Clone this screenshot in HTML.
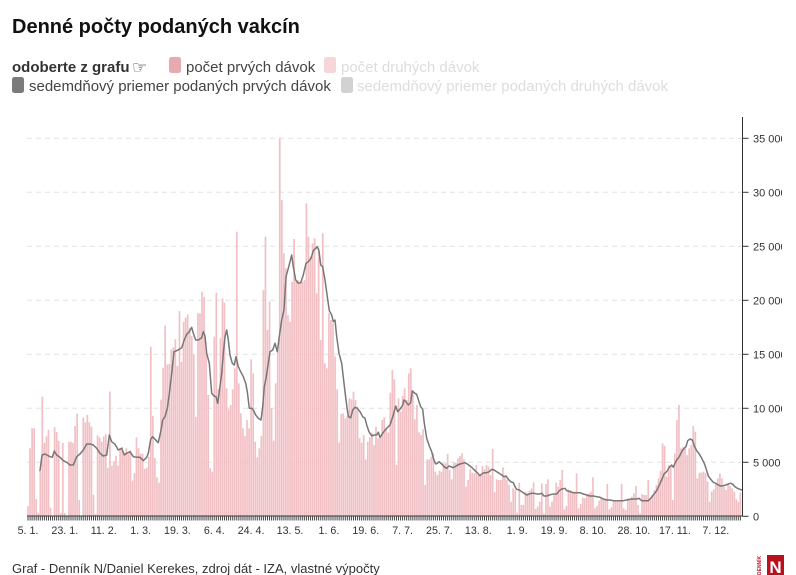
<!DOCTYPE html>
<html><head><meta charset="utf-8">
<style>
html,body{margin:0;padding:0;background:#fff;width:796px;height:575px;overflow:hidden;}
body{position:relative;font-family:"Liberation Sans",sans-serif;}
svg{position:absolute;left:0;top:0;}
</style></head><body>
<svg id="c" width="796" height="575" xmlns="http://www.w3.org/2000/svg" font-family="Liberation Sans, sans-serif">
<defs><clipPath id="cl"><rect x="0" y="0" width="782" height="575"/></clipPath></defs>
<text x="12" y="33" font-size="20" font-weight="bold" fill="#111">Denné počty podaných vakcín</text>
<text x="12" y="72" font-size="15" font-weight="bold" fill="#333">odoberte z grafu</text>
<text x="132" y="73" font-size="17" fill="#333" font-family="DejaVu Sans, sans-serif">☞</text>
<rect x="169" y="57" width="12" height="16" rx="2.5" fill="#e9a9b0"/>
<text x="186" y="72" font-size="15" fill="#444">počet prvých dávok</text>
<rect x="324" y="57" width="12" height="16" rx="2.5" fill="#f6d6d9"/>
<text x="341" y="72" font-size="15" fill="#dddddd">počet druhých dávok</text>
<rect x="12" y="77" width="12" height="16" rx="2.5" fill="#7b7b7b"/>
<text x="29" y="91" font-size="15" fill="#444">sedemdňový priemer podaných prvých dávok</text>
<rect x="341" y="77" width="12" height="16" rx="2.5" fill="#d2d2d2"/>
<text x="357" y="91" font-size="15" fill="#dddddd">sedemdňový priemer podaných druhých dávok</text>
<g id="grid"></g>
<g id="bars"></g>
<g id="line"></g>
<g id="axes"></g>
<g id="ylab" clip-path="url(#cl)"></g>
<g id="xlab"></g>
<text x="12" y="573" font-size="13" fill="#333">Graf - Denník N/Daniel Kerekes, zdroj dát - IZA, vlastné výpočty</text>
<text x="761" y="575" font-size="5" fill="#c0122a" transform="rotate(-90 761 575)" font-weight="bold">DENNÍK</text>
<rect x="767" y="555" width="17" height="22" fill="#b9121f"/>
<text x="775.5" y="573" font-size="17" font-weight="bold" fill="#fff" text-anchor="middle">N</text>
</svg>
<script>
var NS="http://www.w3.org/2000/svg";
function el(tag,attrs,parent){var e=document.createElementNS(NS,tag);for(var k in attrs)e.setAttribute(k,attrs[k]);parent.appendChild(e);return e;}
var X0=28,DX=2.047,Y0=516.3,K=54/5000,N=349;
function vy(v){return Y0-v*K;}
var grid=document.getElementById('grid'),bars=document.getElementById('bars'),line=document.getElementById('line'),axes=document.getElementById('axes'),ylab=document.getElementById('ylab'),xlab=document.getElementById('xlab');
for(var k=1;k<=7;k++){var y=(Y0-k*54).toFixed(1);el('line',{x1:27,x2:742,y1:y,y2:y,stroke:'#e2e2e2','stroke-width':1,'stroke-dasharray':'5,4'},grid);}
var vals=new Array(N);for(var i=0;i<N;i++)vals[i]=null;
var z7=[950,6300,8150,8150,1600,300,4130,11080,6800,7400,8000,800,0,8250,7800,7000,300,6800,300,0,6900,6900,6800,8350,9500,1500,0,9150,8700,9400,8700,8300,2000,200,7500,7300,6900,7400,7600,4500,11550,4700,5100,5600,4700,6300,6400,5900,6300,5800,6100,3300,4000,7300,6300,5800,5800,4400,4500,5500,15700,9300,5400,3600,3100,10800,13750,17650,14050,14100,15450,15650,16400,13900,19000,14300,18000,18400,18700,17450,16700,15000,9200,18800,18800,20800,20300,15700];
for(var i=0;i<z7.length;i++)vals[i]=z7[i];
var z8=[[22,825],[28,1045],[34,1055],[40,1175],[42,650],[47,518],[53,808],[60,655],[66,535],[72,548],[78,805],[84,868],[90,855],[97,808],[103,745],[110,335],[115,790],[121,880],[127,925],[133,948],[140,900],[146,925],[152,718],[158,760],[164,965],[170,1012],[176,985],[182,948],[188,510],[195,350],[200,630],[206,545],[213,865],[219,962],[225,790],[231,690],[238,55],[244,240],[250,400],[256,445],[262,585],[268,605],[274,485],[281,357],[287,485],[293,480],[299,485],[305,485],[311,480],[317,250],[323,350],[329,410],[335,370],[341,355],[348,520],[354,385],[360,660],[366,340],[372,730],[378,745],[384,580],[390,600],[396,618],[402,610],[409,808],[415,968],[421,882],[427,880],[433,895],[439,890],[446,835],[452,838],[458,815],[464,840],[470,860],[476,955],[482,965],[488,968],[494,945],[500,1018],[506,965],[513,938],[519,975],[525,948],[531,920],[537,955]];
var z9=[[3,350],[9,300],[15,292],[21,325],[27,338],[33,218],[39,150],[45,178],[51,435],[57,235],[63,275],[69,228],[75,205],[81,240],[87,160],[93,145],[99,210],[105,298],[111,255],[117,337],[123,345],[129,328],[133,495],[139,418],[145,418],[151,410],[157,400],[163,443],[169,455],[175,465],[181,452],[187,455],[193,430],[199,430],[205,402],[211,450],[217,478],[223,428],[229,428],[235,415],[241,408],[247,400],[253,418],[259,500],[265,480],[271,448],[277,458],[283,460],[289,435],[295,465],[301,465],[307,438],[313,448],[319,435],[325,440],[331,465],[337,387],[343,517],[349,478],[355,480],[361,480],[367,442],[373,470],[379,480],[385,495],[391,545],[397,505],[403,510],[409,578],[415,488],[421,478],[427,555],[433,555],[439,515],[445,520],[451,512],[457,505],[463,487],[469,567],[475,560],[481,545],[487,490],[493,580],[499,492],[505,478],[511,560],[517,545],[523,525],[529,488],[535,500]];
var z10=[[3,480],[9,450],[15,568],[21,558],[27,508],[33,510],[39,515],[45,515],[51,460],[57,565],[63,552],[69,533],[75,535],[81,528],[87,520],[93,515],[99,472],[105,565],[111,558],[117,542],[123,532],[129,535],[135,540],[141,492],[147,568],[153,562],[159,540],[165,545],[171,545],[177,545],[183,492],[189,565],[195,570],[201,535],[207,535],[213,530],[219,520],[225,498],[231,568],[237,555],[243,580],[249,522],[255,525],[261,525],[267,480],[273,540],[279,525],[285,510],[291,495],[297,475],[303,452],[309,370],[315,378],[321,470],[327,435],[333,440],[339,540],[345,400],[351,300],[356,255],[362,385],[368,382],[374,380],[380,405],[386,385],[392,375],[398,318],[404,335],[410,475],[416,458],[422,458],[428,455],[434,460],[440,485],[446,488],[452,545],[458,515],[464,508],[470,492],[476,475],[482,460],[488,475],[494,500],[500,510],[506,492],[512,498],[518,505],[524,515],[530,538],[536,545],[541,518]];
function addZoom(x0,y0,list){list.forEach(function(p){var xo=x0+p[0]/3,yo=y0+p[1]/3;var d=Math.round((xo-X0)/DX);if(d<0||d>=N)return;var v=(Y0-yo)/K;if(v<0)v=0;vals[d]=v;});}
addZoom(200,120,z8);addZoom(380,320,z9);addZoom(560,320,z10);
for(var i=0;i<N;i++){if(vals[i]==null){var a=i-1;while(a>=0&&vals[a]==null)a--;var b=i+1;while(b<N&&vals[b]==null)b++;var va=a>=0?vals[a]:0,vb=b<N?vals[b]:va;vals[i]=(va+vb)/2;}}
for(var d=0;d<N;d++){var v=vals[d];if(v<=0)continue;var y=vy(v);if(y>515.5)y=515.5;el('rect',{x:(X0+DX*d-0.85).toFixed(2),y:y.toFixed(2),width:1.7,height:(516-y).toFixed(2),fill:'#f1c0c5'},bars);}
var pts=[];
function addLine(x0,y0,list){list.forEach(function(p){var xo=x0+p[0]/3,yo=y0+p[1]/3;if(pts.length&&xo<=pts[pts.length-1][0])return;pts.push([xo,yo]);});}
addLine(20,120,[[60,1052],[66,1005],[75,1002],[90,1010],[97,1012],[103,993],[110,1005],[120,1012],[130,1022],[140,1027],[150,1035],[160,1035],[170,1010],[180,1002],[190,990],[200,972],[210,972],[220,975],[230,985],[240,1000],[250,1008],[260,1005],[268,945],[275,965],[285,973],[295,990],[305,985],[313,1005],[320,1000],[330,995],[340,1010],[350,1012],[360,1012],[370,1022],[380,1012],[385,1000],[392,958],[398,950],[405,958],[415,968],[422,935],[428,900],[435,890],[442,865],[448,820],[455,760],[462,695],[470,692],[478,688],[485,683],[492,662],[500,643],[508,635],[515,622],[520,640],[527,660],[535,660],[545,653],[550,635],[555,648]]);
addLine(200,120,[[0,655],[10,635],[15,675],[20,700],[28,730],[35,820],[42,828],[48,830],[53,850],[58,815],[65,760],[70,700],[75,650],[80,630],[85,660],[90,705],[97,730],[103,735],[108,710],[115,740],[122,755],[130,770],[137,790],[142,815],[148,865],[155,865],[160,870],[167,885],[175,895],[183,900],[188,860],[193,800],[198,775],[205,730],[210,695],[218,690],[225,670],[232,695],[238,650],[245,600],[252,570],[258,470],[265,445],[270,425],[275,405],[280,440],[287,480],[295,490],[302,488],[310,465],[318,430],[325,425],[333,415],[340,392],[347,385],[352,380],[357,393],[362,435],[368,440],[375,480],[382,530],[388,572],[395,585],[400,605],[405,600],[410,650],[417,700],[425,730],[432,790],[438,840],[445,890],[452,893],[458,870],[465,862],[472,865],[480,875],[488,890],[495,895],[500,915],[507,935],[515,948],[522,945],[530,945],[535,937],[540,952],[548,940],[555,930]]);
addLine(380,320,[[0,355],[10,332],[20,325],[30,315],[40,285],[47,258],[53,275],[60,268],[68,255],[72,240],[78,245],[85,255],[92,248],[97,213],[105,220],[110,223],[117,245],[122,260],[128,268],[133,310],[140,355],[148,378],[155,395],[160,415],[167,432],[172,430],[177,425],[185,432],[192,440],[200,445],[207,438],[213,440],[218,443],[225,440],[233,435],[240,432],[248,430],[255,428],[262,432],[270,438],[278,445],[285,452],[292,458],[300,467],[305,462],[312,458],[320,458],[328,455],[335,448],[342,450],[350,455],[358,460],[365,465],[372,470],[378,468],[385,478],[392,485],[400,488],[405,500],[410,508],[418,510],[425,515],[432,520],[440,525],[448,522],[455,520],[462,520],[470,522],[478,522],[485,520],[492,528],[500,528],[508,525],[515,523],[522,522],[530,522],[538,512],[545,507],[555,505]]);
addLine(560,320,[[0,510],[10,508],[20,512],[30,515],[40,518],[50,518],[60,518],[70,522],[80,525],[90,528],[100,528],[110,530],[120,532],[130,537],[140,540],[150,540],[160,542],[170,542],[180,542],[190,542],[200,540],[210,538],[220,537],[230,537],[237,535],[245,542],[255,542],[265,542],[272,535],[280,525],[290,512],[298,495],[305,480],[312,462],[320,455],[328,442],[335,435],[340,442],[345,430],[350,420],[358,410],[365,395],[372,385],[378,380],[383,362],[390,357],[397,360],[403,378],[410,392],[418,402],[425,415],[432,428],[438,445],[445,468],[452,478],[460,487],[467,490],[475,495],[482,498],[490,497],[497,495],[505,492],[512,490],[518,493],[525,500],[532,505],[540,508],[545,510]]);
el('polyline',{points:pts.map(function(p){return p[0].toFixed(1)+','+p[1].toFixed(1);}).join(' '),fill:'none',stroke:'#777','stroke-width':1.5,'stroke-linejoin':'round','stroke-linecap':'round'},line);
el('line',{x1:742.5,x2:742.5,y1:117,y2:516.5,stroke:'#333','stroke-width':1},axes);
el('line',{x1:27,x2:743,y1:516,y2:516,stroke:'#333','stroke-width':1},axes);
for(var d=0;d<N;d++){var x=(X0+DX*d).toFixed(2);el('line',{x1:x,x2:x,y1:516,y2:520.5,stroke:'#444','stroke-width':1},axes);}
var ylabs=['0','5 000','10 000','15 000','20 000','25 000','30 000','35 000'];
for(var k=0;k<=7;k++){var y=Y0-k*54;el('line',{x1:742.5,x2:748.5,y1:y.toFixed(1),y2:y.toFixed(1),stroke:'#333','stroke-width':1},axes);var t=el('text',{x:753,y:(y+4).toFixed(1),'font-size':11,fill:'#333'},ylab);t.textContent=ylabs[k];}
var xl=[[0,'5. 1.'],[18,'23. 1.'],[37,'11. 2.'],[55,'1. 3.'],[73,'19. 3.'],[91,'6. 4.'],[109,'24. 4.'],[128,'13. 5.'],[147,'1. 6.'],[165,'19. 6.'],[183,'7. 7.'],[201,'25. 7.'],[220,'13. 8.'],[239,'1. 9.'],[257,'19. 9.'],[276,'8. 10.'],[296,'28. 10.'],[316,'17. 11.'],[336,'7. 12.']];
xl.forEach(function(p){var t=el('text',{x:(X0+DX*p[0]).toFixed(1),y:534,'font-size':10.7,fill:'#333','text-anchor':'middle'},xlab);t.textContent=p[1];});
</script>
</body></html>
